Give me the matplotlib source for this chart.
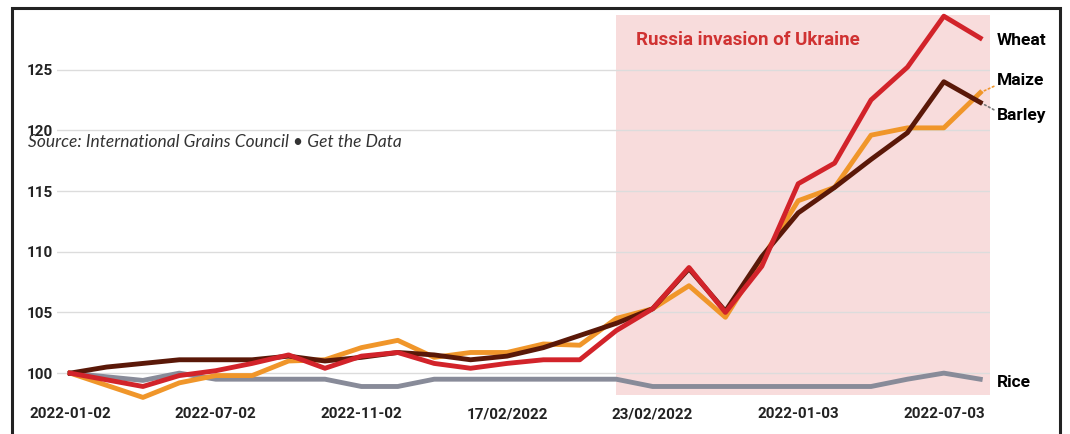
import matplotlib.pyplot as plt
from matplotlib.patches import Rectangle

# business days 1 Feb - 8 Mar 2022, index 100 = 1 Feb
days = list(range(26))
tick_pos = [0, 4, 8, 12, 16, 20, 24]
tick_labels = ['2022-01-02', '2022-07-02', '2022-11-02', '17/02/2022',
               '23/02/2022', '2022-01-03', '2022-07-03']

wheat = [100, 99.45, 98.9, 99.8, 100.2, 100.8, 101.5, 100.4, 101.4, 101.7,
         100.8, 100.4, 100.8, 101.1, 101.1, 103.5, 105.3, 108.7, 105.0, 108.8,
         115.6, 117.3, 122.5, 125.2, 129.4, 127.6]
maize = [100, 99.0, 98.0, 99.2, 99.8, 99.8, 101.0, 101.1, 102.1, 102.7,
         101.3, 101.7, 101.7, 102.4, 102.3, 104.5, 105.3, 107.2, 104.6, 109.4,
         114.2, 115.3, 119.6, 120.2, 120.2, 123.1]
barley = [100, 100.5, 100.8, 101.1, 101.1, 101.1, 101.4, 101.0, 101.3, 101.7,
          101.5, 101.1, 101.4, 102.1, 103.1, 104.1, 105.3, 108.6, 105.1, 109.6,
          113.2, 115.3, 117.6, 119.8, 124.0, 122.3]
rice = [100, 99.7, 99.4, 100.0, 99.5, 99.5, 99.5, 99.5, 98.9, 98.9,
        99.5, 99.5, 99.5, 99.5, 99.5, 99.5, 98.9, 98.9, 98.9, 98.9,
        98.9, 98.9, 98.9, 99.5, 100.0, 99.5]

invasion_start = 15
y_ticks = [100, 105, 110, 115, 120, 125]

fig = plt.figure(figsize=(10.7, 4.34), dpi=100)
ax = fig.add_axes([0.0533, 0.0899, 0.872, 0.8756])

x_right = 25.27
ax.set_xlim(-0.36, x_right)
ax.set_ylim(98.2, 129.5)

# shaded invasion period
ax.axvspan(invasion_start, x_right, color='#f8dcdc', zorder=0, lw=0)
ax.text(invasion_start + 0.55, 127.4, 'Russia invasion of Ukraine', color='#d03232',
        fontsize=13.5, fontweight='bold', family='Roboto', va='center')

lw = 3.5
ax.plot(days, rice, color='#888b99', lw=lw, zorder=3, clip_on=False)
ax.plot(days, maize, color='#f0962a', lw=lw, zorder=4, clip_on=False)
ax.plot(days, barley, color='#5a1808', lw=lw, zorder=5, clip_on=False)
ax.plot(days, wheat, color='#d2232a', lw=lw, zorder=6, clip_on=False)

# gridlines
for v in y_ticks:
    ax.axhline(v, color='#dcdcdc', lw=1, zorder=1)

ax.set_yticks(y_ticks)
ax.set_yticklabels([str(v) for v in y_ticks])
ax.set_xticks(tick_pos)
ax.set_xticklabels(tick_labels)
ax.tick_params(length=0, labelsize=11, labelcolor='#222222')
ax.tick_params(axis='x', pad=9)
ax.tick_params(axis='y', pad=3)
for lab in ax.get_xticklabels() + ax.get_yticklabels():
    lab.set_family('Roboto')
    lab.set_fontweight('bold')
for s in ax.spines.values():
    s.set_visible(False)

# end labels
lab_x = 25.45
ax.text(lab_x, 127.4, 'Wheat', fontsize=12.5, fontweight='bold', family='Roboto',
        va='center', clip_on=False)
ax.annotate('Maize', xy=(days[-1], maize[-1]), xytext=(lab_x, 124.1),
            fontsize=12.5, fontweight='bold', family='Roboto', va='center',
            annotation_clip=False,
            arrowprops=dict(arrowstyle='-', ls=':', color='#f0962a', lw=1.2,
                            shrinkA=0, shrinkB=0, relpos=(0, 0.2)))
ax.annotate('Barley', xy=(days[-1], barley[-1]), xytext=(lab_x, 121.2),
            fontsize=12.5, fontweight='bold', family='Roboto', va='center',
            annotation_clip=False,
            arrowprops=dict(arrowstyle='-', ls=':', color='#777777', lw=1.2,
                            shrinkA=0, shrinkB=0, relpos=(0, 0.8)))
ax.text(lab_x, 99.2, 'Rice', fontsize=12.5, fontweight='bold', family='Roboto',
        va='center', clip_on=False)

# source line
fig.text(28 / 1070, 1 - 142 / 434, 'Source: International Grains Council \u2022 Get the Data',
         family='Lato', style='italic', fontsize=12.5,
         color='#333333', va='center')

# outer frame
fig.patches.append(Rectangle((12 / 1070, -0.2), (1060 - 12) / 1070, 1.2 - 8 / 434,
                             transform=fig.transFigure, fill=False,
                             edgecolor='#222222', lw=2.2))

fig.savefig('out.png', dpi=100)
